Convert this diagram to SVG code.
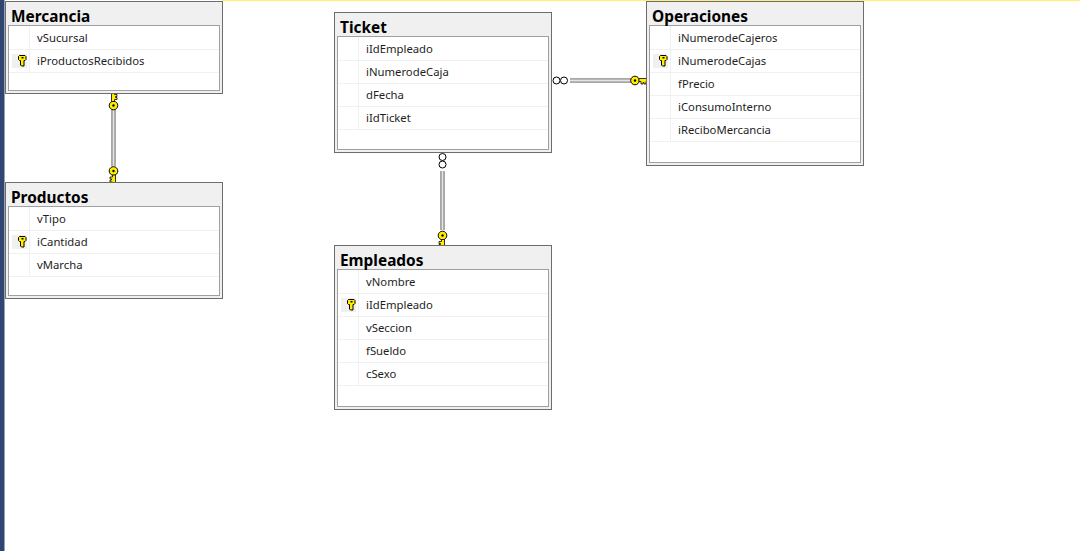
<svg xmlns="http://www.w3.org/2000/svg" width="1080" height="551" viewBox="0 0 1080 551">
<style>
.box{fill:#f0f0f0;stroke:#6d6d6d;stroke-width:1}
.inner{fill:#fff;stroke:#a0a0a0;stroke-width:1}
.sep{stroke:#f0f0f0;stroke-width:1;fill:none}
.title{font-family:"Noto Sans","Open Sans",sans-serif;font-weight:700;font-size:15.4px;fill:#000}
.row{font-family:"Noto Sans","Open Sans",sans-serif;font-size:11.3px;fill:#1e1e1e}
.keybg{fill:#f0f0f0}
.lo{stroke:#8a8a8a;stroke-width:4.500;fill:none}
.li{stroke:#e4e4e4;stroke-width:1.800;fill:none}
.ring{fill:#fff;stroke:#000;stroke-width:1}
</style>
<defs>
<g id="key"><rect class="keybg" x="-10" y="-7" width="15" height="14"/><path d="M-2.500 -5.500h5.500l1 1v3l-1 1h-1v5.500h-2.500l-1-1v-4.500h-1l-1-1v-3z" fill="#ffee00" stroke="#000"/><rect x="-.500" y="-4" width="2" height="1.500" fill="#000"/></g>
<g id="fk"><circle cx="0" cy="0" r="4.300" fill="#ffee00" stroke="#000" stroke-width="1"/><circle cx="0" cy="0" r="1.200" fill="#000"/><path d="M4 -2h8v3h-1v2.500h-2v-1.500h-1v1.500h-2v-2.500H4z" fill="#ffee00" stroke="#000" stroke-width=".8"/></g>
</defs>
<rect width="1080" height="551" fill="#fff"/>
<rect x="0" y="0" width="4.500" height="551" fill="#2f4770"/>
<rect x="222" y="0" width="858" height="1.200" fill="#ffee88"/>
<g id="connectors">
<path class="lo" d="M113.500 110V166M442.500 171V230M570 80.500H631"/>
<path class="li" d="M113.500 110V166M442.500 171V230M570 80.500H631"/>
<use href="#fk" transform="translate(113.500 105.500) rotate(-90)"/>
<use href="#fk" transform="translate(113.500 171) rotate(90)"/>
<use href="#fk" transform="translate(442.500 235.500) rotate(90)"/>
<use href="#fk" transform="translate(635 80.500)"/>
<circle class="ring" cx="442.500" cy="157" r="3.500"/><circle class="ring" cx="442.500" cy="164.500" r="3.500"/>
<circle class="ring" cx="556.500" cy="80.500" r="3.500"/><circle class="ring" cx="564" cy="80.500" r="3.500"/>
</g>
<g id="Mercancia">
<rect class="box" x="5.500" y="1.500" width="217" height="92"/>
<rect class="inner" x="8.500" y="25.500" width="211" height="65"/>
<path class="sep" d="M9 49.500H219M9 72.500H219M29.500 26V72"/>
<text class="title" x="11" y="22">Mercancia</text>
<text class="row" x="37" y="42">vSucursal</text>
<use href="#key" x="22" y="61"/>
<text class="row" x="37" y="65">iProductosRecibidos</text>
</g>
<g id="Productos">
<rect class="box" x="5.500" y="182.500" width="217" height="116"/>
<rect class="inner" x="8.500" y="206.500" width="211" height="89"/>
<path class="sep" d="M9 230.500H219M9 253.500H219M9 276.500H219M29.500 207V276"/>
<text class="title" x="11" y="203">Productos</text>
<text class="row" x="37" y="223">vTipo</text>
<use href="#key" x="22" y="242"/>
<text class="row" x="37" y="246">iCantidad</text>
<text class="row" x="37" y="269">vMarcha</text>
</g>
<g id="Ticket">
<rect class="box" x="334.500" y="12.500" width="217" height="140"/>
<rect class="inner" x="337.500" y="36.500" width="211" height="113"/>
<path class="sep" d="M338 60.500H548M338 83.500H548M338 106.500H548M338 129.500H548M358.500 37V129"/>
<text class="title" x="340" y="33">Ticket</text>
<text class="row" x="366" y="53">iIdEmpleado</text>
<text class="row" x="366" y="76">iNumerodeCaja</text>
<text class="row" x="366" y="99">dFecha</text>
<text class="row" x="366" y="122">iIdTicket</text>
</g>
<g id="Empleados">
<rect class="box" x="334.500" y="245.500" width="217" height="164"/>
<rect class="inner" x="337.500" y="269.500" width="211" height="137"/>
<path class="sep" d="M338 293.500H548M338 316.500H548M338 339.500H548M338 362.500H548M338 385.500H548M358.500 270V385"/>
<text class="title" x="340" y="266">Empleados</text>
<text class="row" x="366" y="286">vNombre</text>
<use href="#key" x="351" y="305"/>
<text class="row" x="366" y="309">iIdEmpleado</text>
<text class="row" x="366" y="332">vSeccion</text>
<text class="row" x="366" y="355">fSueldo</text>
<text class="row" x="366" y="378">cSexo</text>
</g>
<g id="Operaciones">
<rect class="box" x="646.500" y="1.500" width="217" height="164"/>
<rect class="inner" x="649.500" y="25.500" width="211" height="137"/>
<path class="sep" d="M650 49.500H860M650 72.500H860M650 95.500H860M650 118.500H860M650 141.500H860M670.500 26V141"/>
<text class="title" x="652" y="22">Operaciones</text>
<text class="row" x="678" y="42">iNumerodeCajeros</text>
<use href="#key" x="663" y="61"/>
<text class="row" x="678" y="65">iNumerodeCajas</text>
<text class="row" x="678" y="88">fPrecio</text>
<text class="row" x="678" y="111">iConsumoInterno</text>
<text class="row" x="678" y="134">iReciboMercancia</text>
</g>
</svg>
